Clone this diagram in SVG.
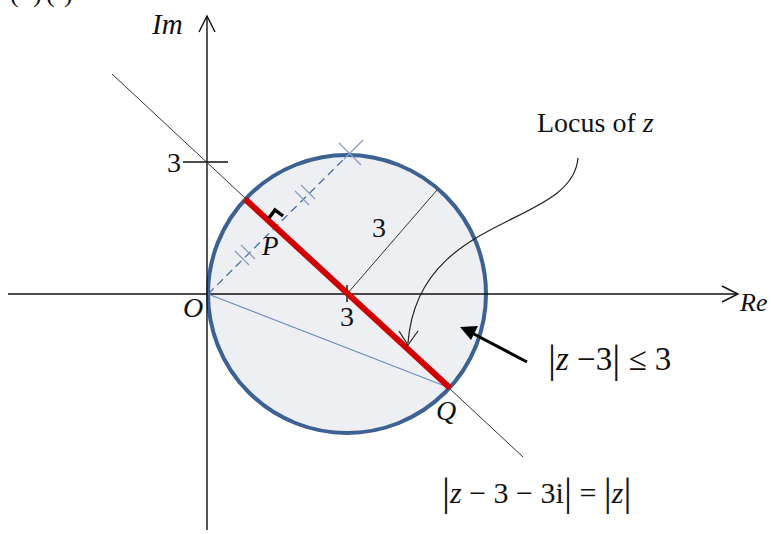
<svg xmlns="http://www.w3.org/2000/svg" width="771" height="534" viewBox="0 0 771 534">
<style>
.t{font-family:"Liberation Serif","Times New Roman",serif;fill:#111}
.i{font-style:italic}
.bar{font-size:40px}
.ax{stroke:#111;stroke-width:1.4;fill:none}
.thin{stroke:#333;stroke-width:1;fill:none}
.tick{stroke:#8a9ec0;stroke-width:1.3}
</style>
<rect width="771" height="534" fill="#fff"/>
<text class="t" font-size="26"><tspan x="10" y="2">(</tspan><tspan x="33" y="2">)</tspan><tspan x="46" y="2">(</tspan><tspan x="64" y="2">)</tspan></text>
<g id="circle">
<circle cx="347" cy="294" r="139" fill="#eeeff3" stroke="#3d6193" stroke-width="4"/>
</g>
<g id="axes">
<line class="ax" x1="207" y1="16" x2="207" y2="530"/>
<polyline class="ax" points="199,32 207,16 215,32"/>
<line class="ax" x1="8" y1="294" x2="737" y2="294"/>
<polyline class="ax" points="722,286 738,294 722,302"/>
<line class="ax" x1="183" y1="162" x2="228" y2="162"/>
<line class="ax" x1="347" y1="285" x2="347" y2="302"/>
</g>
<g id="connectors">
<line class="thin" x1="112" y1="74" x2="523" y2="457"/>
<line x1="208" y1="294" x2="450" y2="388" stroke="#6d8cc0" stroke-width="1.2"/>
<line x1="208" y1="294" x2="349" y2="154" stroke="#4a6fa5" stroke-width="1.3" stroke-dasharray="8,5"/>
<line class="thin" x1="347" y1="294" x2="437" y2="190"/>
<line x1="245" y1="199" x2="450" y2="388" stroke="#d00000" stroke-width="6"/>
<line class="tick" x1="235" y1="251" x2="249" y2="265"/>
<line class="tick" x1="241" y1="245" x2="255" y2="259"/>
<line class="tick" x1="295" y1="191" x2="309" y2="205"/>
<line class="tick" x1="301" y1="185" x2="315" y2="199"/>
<line class="tick" x1="339" y1="143" x2="361" y2="165"/>
<line class="tick" x1="344" y1="159" x2="363" y2="140"/>
<polyline points="269,218 275,210 283,216" fill="none" stroke="#000" stroke-width="3.4"/>
<path d="M578,158 C572,228 418,212 408,343" fill="none" stroke="#222" stroke-width="1.2"/>
<polyline points="399,331 408,345 418,331" fill="none" stroke="#222" stroke-width="1.2"/>
<line x1="527" y1="362" x2="472" y2="333" stroke="#000" stroke-width="3"/>
<polygon points="460,327 478,326 471,340" fill="#000"/>
</g>
<g id="labels">
<text class="t i" x="152" y="34" font-size="29">Im</text>
<text class="t" x="167" y="172" font-size="28">3</text>
<text class="t" x="372" y="237" font-size="28">3</text>
<text class="t" x="340" y="326" font-size="28">3</text>
<text class="t i" x="183" y="317" font-size="28">O</text>
<text class="t i" x="262" y="255" font-size="27">P</text>
<text class="t i" x="436" y="420" font-size="28">Q</text>
<text class="t i" x="740" y="311" font-size="26">Re</text>
<text class="t" x="537" y="132" font-size="28">Locus of <tspan class="i">z</tspan></text>
<text class="t" x="548" y="370" font-size="33"><tspan class="bar" dy="2">|</tspan><tspan class="i" dy="-2">z</tspan> −3<tspan class="bar" dy="2">|</tspan><tspan dy="-2"> ≤ 3</tspan></text>
<text class="t" x="442" y="503" font-size="30"><tspan class="bar" dy="2">|</tspan><tspan class="i" dy="-2">z</tspan> − 3 − 3i<tspan class="bar" dy="2">|</tspan><tspan dy="-2"> = </tspan><tspan class="bar" dy="2">|</tspan><tspan class="i" dy="-2">z</tspan><tspan class="bar" dy="2">|</tspan></text>
</g>
</svg>
